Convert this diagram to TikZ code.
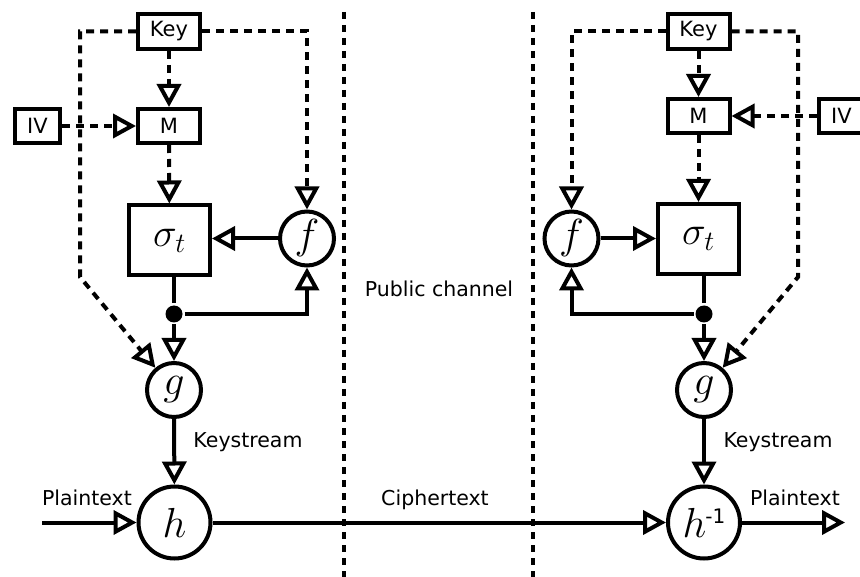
\RequirePackage{fix-cm}
\documentclass[tikz,border=0pt]{standalone}
\usepackage{fontspec}
\setmainfont{DejaVu Sans}
\usetikzlibrary{arrows.meta}
\begin{document}
\begin{tikzpicture}[x=1pt,y=-1pt,line width=4pt,
  tip/.style={-{Triangle[open,length=23pt,width=24pt]}},
  box/.style={draw,rectangle,inner sep=0pt,font=\fontsize{21}{21}\selectfont},
  circ/.style={draw,circle,inner sep=0pt,font=\fontsize{42}{42}\selectfont},
  dot/.style={circle,fill,inner sep=0pt,minimum size=17pt},
  dsh/.style={dash pattern=on 8pt off 6pt},
  chan/.style={dash pattern=on 7pt off 6pt},
  lbl/.style={font=\fontsize{20.5}{20.5}\selectfont,inner sep=0pt,anchor=base}]
\useasboundingbox (0,0) rectangle (860,577);

% channel separators
\coordinate (ca1) at (344,12); \coordinate (cb1) at (344,577);
\coordinate (ca2) at (533,12); \coordinate (cb2) at (533,577);
\draw[chan] (ca1) -- (cb1);
\draw[chan] (ca2) -- (cb2);

% ---------- left (sender) ----------
\node[box,minimum width=62pt,minimum height=35pt] (key1) at (169,31.5) {Key};
\node[box,minimum width=62pt,minimum height=34pt] (m1) at (169,126) {M};
\node[box,minimum width=45pt,minimum height=34pt] (iv1) at (37.5,126) {IV};
\node[box,minimum width=81pt,minimum height=70pt,font=\fontsize{40}{40}\selectfont] (s1) at (169.5,240.5) {$\sigma_t$};
\node[circ,minimum size=54pt] (f1) at (307,238.5) {$f$};
\node[dot] (b1) at (174,314) {};
\node[circ,minimum size=54pt] (g1) at (174,390) {$g$};
\node[circ,minimum size=72pt] (h1) at (174.5,522.5) {$h$};
\coordinate (c1) at (80,277);
\coordinate (pin) at (42,522.5);

\draw[dsh,tip] (key1) -- (m1);
\draw[dsh,tip] (iv1) -- (m1);
\draw[dsh,tip] (m1) -- (s1);
\draw[dsh,tip] (key1.east) -| (f1.north);
\draw[dsh,tip] (key1.west) -| (c1) -- (g1.130);
\draw[tip] (f1.west) -- (f1.west -| s1.east);
\draw (s1.south -| b1) -- (b1);
\draw[tip] (b1) -- (g1);
\draw[tip] (b1) -| (f1.south);
\draw[tip] (g1) -- (h1);
\draw[tip] (pin) -- (h1);

% ---------- right (receiver) ----------
\node[box,minimum width=62pt,minimum height=35pt] (key2) at (698.5,31.5) {Key};
\node[box,minimum width=62pt,minimum height=34pt] (m2) at (698.5,116) {M};
\node[box,minimum width=45pt,minimum height=34pt] (iv2) at (841.5,116) {IV};
\node[box,minimum width=81pt,minimum height=70pt,font=\fontsize{40}{40}\selectfont] (s2) at (698.5,239) {$\sigma_t$};
\node[circ,minimum size=54pt] (f2) at (571.5,238.5) {$f$};
\node[dot] (b2) at (704,314) {};
\node[circ,minimum size=54pt] (g2) at (704,390) {$g$};
\node[circ,minimum size=72pt] (h2) at (704,522.5) {$h$\kern-1pt\raisebox{14pt}{\fontsize{20}{20}\selectfont -1}};
\coordinate (c2) at (798,277);
\coordinate (pout) at (845,522.5);

\draw[dsh,tip] (key2) -- (m2);
\draw[dsh,tip] (iv2) -- (m2);
\draw[dsh,tip] (m2) -- (s2);
\draw[dsh,tip] (key2.west) -| (f2.north);
\draw[dsh,tip] (key2.east) -| (c2) -- (g2.50);
\draw[tip] (f2.east) -- (f2.east -| s2.west);
\draw (s2.south -| b2) -- (b2);
\draw[tip] (b2) -- (g2);
\draw[tip] (b2) -| (f2.south);
\draw[tip] (g2) -- (h2);
\draw[tip] (h2) -- (pout);

% ciphertext
\draw[tip] (h1) -- (h2);

% labels
\node[lbl] at (87,505) {Plaintext};
\node[lbl] at (435,505) {Ciphertext};
\node[lbl] at (795,505) {Plaintext};
\node[lbl] at (248,447) {Keystream};
\node[lbl] at (778,447) {Keystream};
\node[lbl] at (439,297) {Public channel};
\end{tikzpicture}
\end{document}
